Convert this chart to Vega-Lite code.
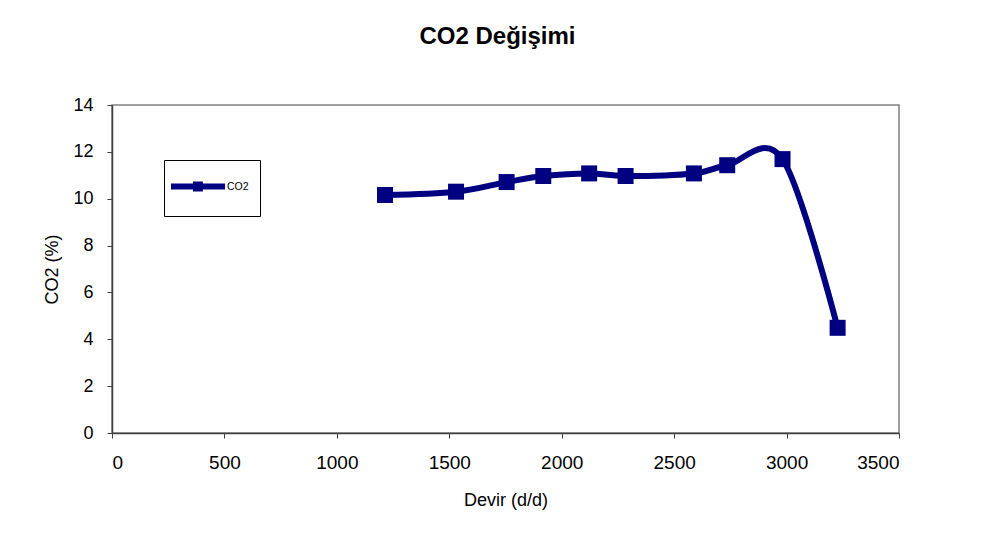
{
  "$schema": "https://vega.github.io/schema/vega-lite/v6.json",
  "width": 787,
  "height": 328,
  "autosize": {"type": "none"},
  "padding": {"left": 112, "top": 105, "right": 85, "bottom": 113},
  "background": "white",
  "title": {
    "text": "CO2 Değişimi",
    "font": "Liberation Sans",
    "fontSize": 24,
    "fontWeight": "bold",
    "color": "#000000",
    "offset": 47,
    "dx": -8
  },
  "data": {
    "values": [
      {"devir": 1214, "co2": 10.16, "series": "CO2"},
      {"devir": 1530, "co2": 10.3, "series": "CO2"},
      {"devir": 1755, "co2": 10.71, "series": "CO2"},
      {"devir": 1918, "co2": 10.97, "series": "CO2"},
      {"devir": 2122, "co2": 11.08, "series": "CO2"},
      {"devir": 2284, "co2": 10.97, "series": "CO2"},
      {"devir": 2588, "co2": 11.08, "series": "CO2"},
      {"devir": 2736, "co2": 11.43, "series": "CO2"},
      {"devir": 2982, "co2": 11.69, "series": "CO2"},
      {"devir": 3227, "co2": 4.49, "series": "CO2"}
    ]
  },
  "encoding": {
    "x": {
      "field": "devir",
      "type": "quantitative",
      "scale": {"domain": [0, 3500], "nice": false, "zero": true},
      "axis": {
        "title": "Devir (d/d)",
        "values": [0, 500, 1000, 1500, 2000, 2500, 3000, 3500],
        "format": "d",
        "grid": false,
        "tickSize": 5,
        "labelPadding": 15,
        "titlePadding": 19,
        "labelFontSize": 19,
        "titleFontSize": 18
      }
    },
    "y": {
      "field": "co2",
      "type": "quantitative",
      "scale": {"domain": [0, 14], "nice": false},
      "axis": {
        "title": "CO2 (%)",
        "values": [0, 2, 4, 6, 8, 10, 12, 14],
        "format": "d",
        "grid": false,
        "tickSize": 5,
        "labelPadding": 14,
        "titlePadding": 11,
        "labelFontSize": 18,
        "titleFontSize": 18
      }
    },
    "color": {
      "field": "series",
      "type": "nominal",
      "scale": {"range": ["#000080"]},
      "legend": {
        "title": null,
        "orient": "none",
        "legendX": 52,
        "legendY": 55,
        "padding": 11,
        "strokeColor": "#000000",
        "fillColor": "#ffffff",
        "symbolType": "M-1.26,-0.19L2.23,-0.19L2.23,0.19L-1.26,0.19Z M0.16,-0.32L0.8,-0.32L0.8,0.32L0.16,0.32Z M0,1.16L0.001,1.16Z",
        "symbolSize": 961,
        "symbolStrokeWidth": 0,
        "symbolFillColor": "#000080",
        "labelFont": "Liberation Sans",
        "labelFontSize": 10.5,
        "labelColor": "#000000",
        "labelOffset": 21
      }
    }
  },
  "layer": [
    {
      "mark": {"type": "line", "interpolate": "cardinal", "strokeWidth": 6, "strokeCap": "round", "strokeJoin": "round"}
    },
    {
      "mark": {"type": "point", "shape": "square", "filled": true, "size": 256, "opacity": 1}
    }
  ],
  "config": {
    "font": "Liberation Sans",
    "view": {"stroke": "#808080", "strokeWidth": 1.5},
    "axis": {
      "domainColor": "#404040",
      "domainWidth": 1.5,
      "tickColor": "#404040",
      "tickWidth": 1,
      "labelFont": "Liberation Sans",
      "labelColor": "#000000",
      "titleFont": "Liberation Sans",
      "titleFontWeight": "normal",
      "titleColor": "#000000"
    }
  }
}
